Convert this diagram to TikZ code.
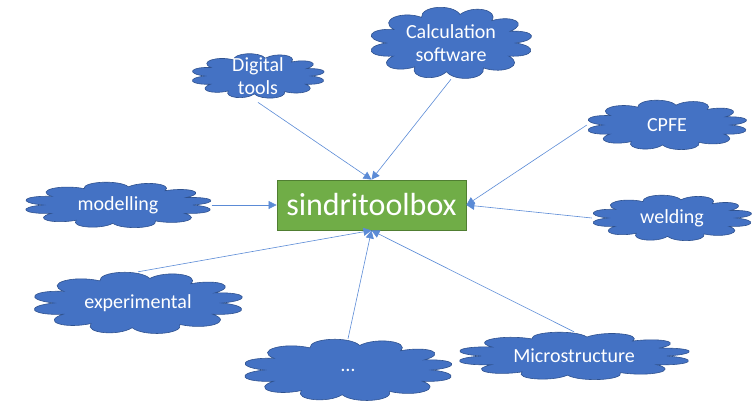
\documentclass[tikz,border=0pt]{standalone}
\usepackage{fontspec}
\setmainfont{Carlito}
\usetikzlibrary{shapes.geometric}
\usetikzlibrary{arrows.meta}

\definecolor{cloudblue}{HTML}{4472C4}
\definecolor{cloudedge}{HTML}{2F528F}
\definecolor{boxgreen}{HTML}{70AD47}
\definecolor{boxedge}{HTML}{507E32}
\definecolor{linkblue}{HTML}{5B8BD6}

% cloud outline, then a named node on top of it: name, centre, width, height, text
\newcommand{\topiccloud}[5]{%
    \begin{scope}[shift = {#2}, xscale = #3/2, yscale = #4/2]
        \path[puffs] (0:0.8) \foreach \a/\b in {0/27, 27/60, 60/94, 94/124, 124/153, 153/180, 180/208, 208/243, 243/278, 278/309, 309/336, 336/360} {
            .. controls ({\a + 0.2*(\b - \a)}:1.1) and ({\b - 0.2*(\b - \a)}:1.1) .. (\b:0.8)} -- cycle;
    \end{scope}
    \node[topic, minimum width = #3pt, minimum height = #4pt] (#1) at #2 {#5};%
}

\begin{document}
\begin{tikzpicture}[x = 1pt, y = -1pt,
    puffs/.style = {draw = cloudedge, fill = cloudblue, line width = 0.6pt},
    topic/.style = {shape = ellipse, text = white, font = \fontsize{20}{23}\selectfont, align = center, inner sep = 0pt},
    hub/.style = {shape = rectangle, draw = boxedge, fill = boxgreen, text = white, font = \fontsize{32}{34}\selectfont, minimum width = 189pt, minimum height = 50pt, line width = 0.8pt},
    link/.style = {draw = linkblue, line width = 0.6pt, -{Triangle[length = 8pt, width = 8pt]}},
    ]
    \useasboundingbox (0, 0) rectangle (756, 400);

    \node[hub] (box) at (371.5, 205) {sindritoolbox};

    \topiccloud{digital}{(258, 76)}{133}{45}{Digital\\tools}
    \topiccloud{calc}{(451, 43)}{162}{72}{Calculation\\software}
    \topiccloud{cpfe}{(667, 125)}{160}{50}{CPFE}
    \topiccloud{weld}{(672, 218)}{160}{46}{welding}
    \topiccloud{model}{(118, 205)}{187}{46}{modelling}
    \topiccloud{exper}{(138, 303)}{210}{62}{experimental}
    \topiccloud{etc}{(348, 370)}{209}{62}{\dots}
    \topiccloud{micro}{(574, 356)}{232}{48}{Microstructure}

    \path[link] (digital.south) -- (box.north);
    \path[link] (calc.south) -- (box.north);
    \path[link] (cpfe.west) -- (box.east);
    \path[link] (weld.west) -- (box.east);
    \path[link] (model.east) -- (box.west);
    \path[link] (exper.north) -- (box.south);
    \path[link] (etc.north) -- (box.south);
    \path[link] (micro.north) -- (box.south);
\end{tikzpicture}
\end{document}
